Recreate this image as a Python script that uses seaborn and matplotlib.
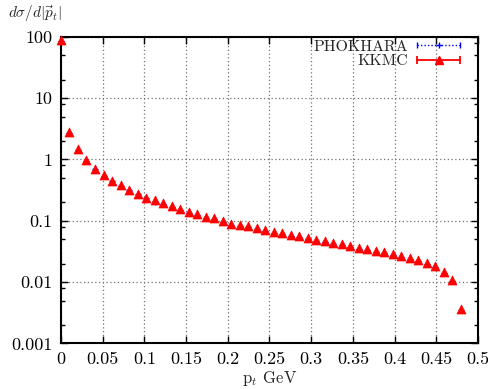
import matplotlib.pyplot as plt
import matplotlib as mpl
import seaborn as sns
import pandas as pd
from matplotlib.lines import Line2D
from matplotlib.legend_handler import HandlerLine2D, HandlerTuple
from matplotlib.ticker import FixedLocator, LogLocator, NullFormatter

# p_t bin positions (GeV)
pt = [0.0, 0.0102, 0.0204, 0.0306, 0.0408, 0.0510, 0.0612, 0.0714, 0.0816, 0.0918,
      0.1020, 0.1122, 0.1224, 0.1327, 0.1429, 0.1531, 0.1633, 0.1735, 0.1837, 0.1939,
      0.2041, 0.2143, 0.2245, 0.2347, 0.2449, 0.2551, 0.2653, 0.2755, 0.2857, 0.2959,
      0.3061, 0.3163, 0.3265, 0.3367, 0.3469, 0.3571, 0.3673, 0.3776, 0.3878, 0.3980,
      0.4082, 0.4184, 0.4286, 0.4388, 0.4490, 0.4592, 0.4694, 0.4796]

kkmc = [88.0, 2.82, 1.49, 0.985, 0.71, 0.56, 0.453, 0.381, 0.323, 0.278,
        0.239, 0.214, 0.194, 0.171, 0.155, 0.141, 0.128, 0.117, 0.109, 0.098,
        0.090, 0.086, 0.081, 0.0766, 0.0718, 0.0659, 0.0635, 0.0596, 0.0561, 0.0526,
        0.0493, 0.0470, 0.0441, 0.0415, 0.0390, 0.0366, 0.0348, 0.0327, 0.0308, 0.0289,
        0.0265, 0.0246, 0.0228, 0.0206, 0.0182, 0.0148, 0.0107, 0.00361]

phokhara = [85.0, 2.72, 1.44, 0.95, 0.685, 0.54, 0.437, 0.368, 0.312, 0.268,
            0.231, 0.206, 0.187, 0.165, 0.149, 0.136, 0.123, 0.113, 0.105, 0.0945,
            0.0868, 0.0829, 0.0781, 0.0739, 0.0692, 0.0636, 0.0612, 0.0575, 0.0541, 0.0507,
            0.0475, 0.0453, 0.0425, 0.0400, 0.0376, 0.0353, 0.0336, 0.0315, 0.0297, 0.0279,
            0.0256, 0.0237, 0.0220, 0.0199, 0.0175, 0.0143, 0.0103, 0.00347]

xticks = [0, 0.05, 0.1, 0.15, 0.2, 0.25, 0.3, 0.35, 0.4, 0.45, 0.5]
yticks = [0.001, 0.01, 0.1, 1, 10, 100]
ylabels = ['0.001', '0.01', '0.1', '1', '10', '100']

df_k = pd.DataFrame({'pt': pt, 'val': kkmc})
df_p = pd.DataFrame({'pt': pt, 'val': phokhara})

sns.set_style("ticks")
plt.rcParams['font.family'] = 'serif'
plt.rcParams['font.serif'] = ['cmr10', 'DejaVu Serif']
plt.rcParams['mathtext.fontset'] = 'cm'
plt.rcParams['axes.unicode_minus'] = False

FS = 13
LFS = 11.4

fig = plt.figure(figsize=(4.89, 3.89), dpi=100)
ax = fig.add_axes([0.1247, 0.117, 0.8528, 0.7887])

sns.scatterplot(data=df_p, x='pt', y='val', ax=ax, marker='+', s=22, color='blue',
                linewidth=1, clip_on=False, zorder=3)
sns.scatterplot(data=df_k, x='pt', y='val', ax=ax, marker='^', s=42, color='red',
                edgecolor='red', linewidth=0.5, clip_on=False, zorder=4)

ax.set_yscale('log')
ax.set_xlim(0, 0.5)
ax.set_ylim(0.001, 100)
ax.set_xticks(xticks)
ax.set_xticklabels([f'{t:g}' for t in xticks])
ax.yaxis.set_major_locator(FixedLocator(yticks))
ax.set_yticklabels(ylabels)
ax.yaxis.set_minor_locator(LogLocator(base=10, subs=[0.2, 0.5, 0.8]))
ax.yaxis.set_minor_formatter(NullFormatter())

ax.tick_params(which='both', direction='in', top=True, right=True, labelsize=FS, colors='black')
ax.tick_params(which='major', length=5, width=1, pad=6)
ax.tick_params(which='minor', length=3, width=1)
for s in ax.spines.values():
    s.set_linewidth(1.5)
    s.set_color('black')

ax.grid(True, which='major', color='0.45', linestyle=(0, (1, 2)), linewidth=0.9)
ax.set_axisbelow(True)

ax.set_xlabel(r'p$_t$ GeV', fontsize=12, labelpad=1)
ax.set_ylabel('')
fig.text(0.016, 0.965, r'$d\sigma/d|\vec{p}_t|$', fontsize=11, ha='left', va='center')

# gnuplot style legend entries, text right-aligned
b_line = Line2D([], [], color='blue', ls=(0, (1, 1.5)), lw=1, marker='+', ms=5)
b_caps = Line2D([], [], color='blue', ls='', marker='|', ms=5)
r_line = Line2D([], [], color='red', ls='-', lw=1.3, marker='^', ms=6)
r_caps = Line2D([], [], color='red', ls='', marker='|', ms=6, mew=1.3)
hmap = {b_caps: HandlerLine2D(numpoints=2, marker_pad=0),
        r_caps: HandlerLine2D(numpoints=2, marker_pad=0),
        tuple: HandlerTuple(ndivide=1)}

leg1 = ax.legend([(b_line, b_caps)], ['PHOKHARA'], handler_map=hmap, numpoints=1,
                 loc='upper right', bbox_to_anchor=(0.957, 0.99), frameon=False,
                 markerfirst=False, handlelength=2.7, handletextpad=0.6,
                 borderpad=0, borderaxespad=0, fontsize=LFS)
ax.add_artist(leg1)
ax.legend([(r_line, r_caps)], ['KKMC'], handler_map=hmap, numpoints=1,
          loc='upper right', bbox_to_anchor=(0.957, 0.943), frameon=False,
          markerfirst=False, handlelength=2.7, handletextpad=0.6,
          borderpad=0, borderaxespad=0, fontsize=LFS)

plt.savefig('out.png', dpi=100)
